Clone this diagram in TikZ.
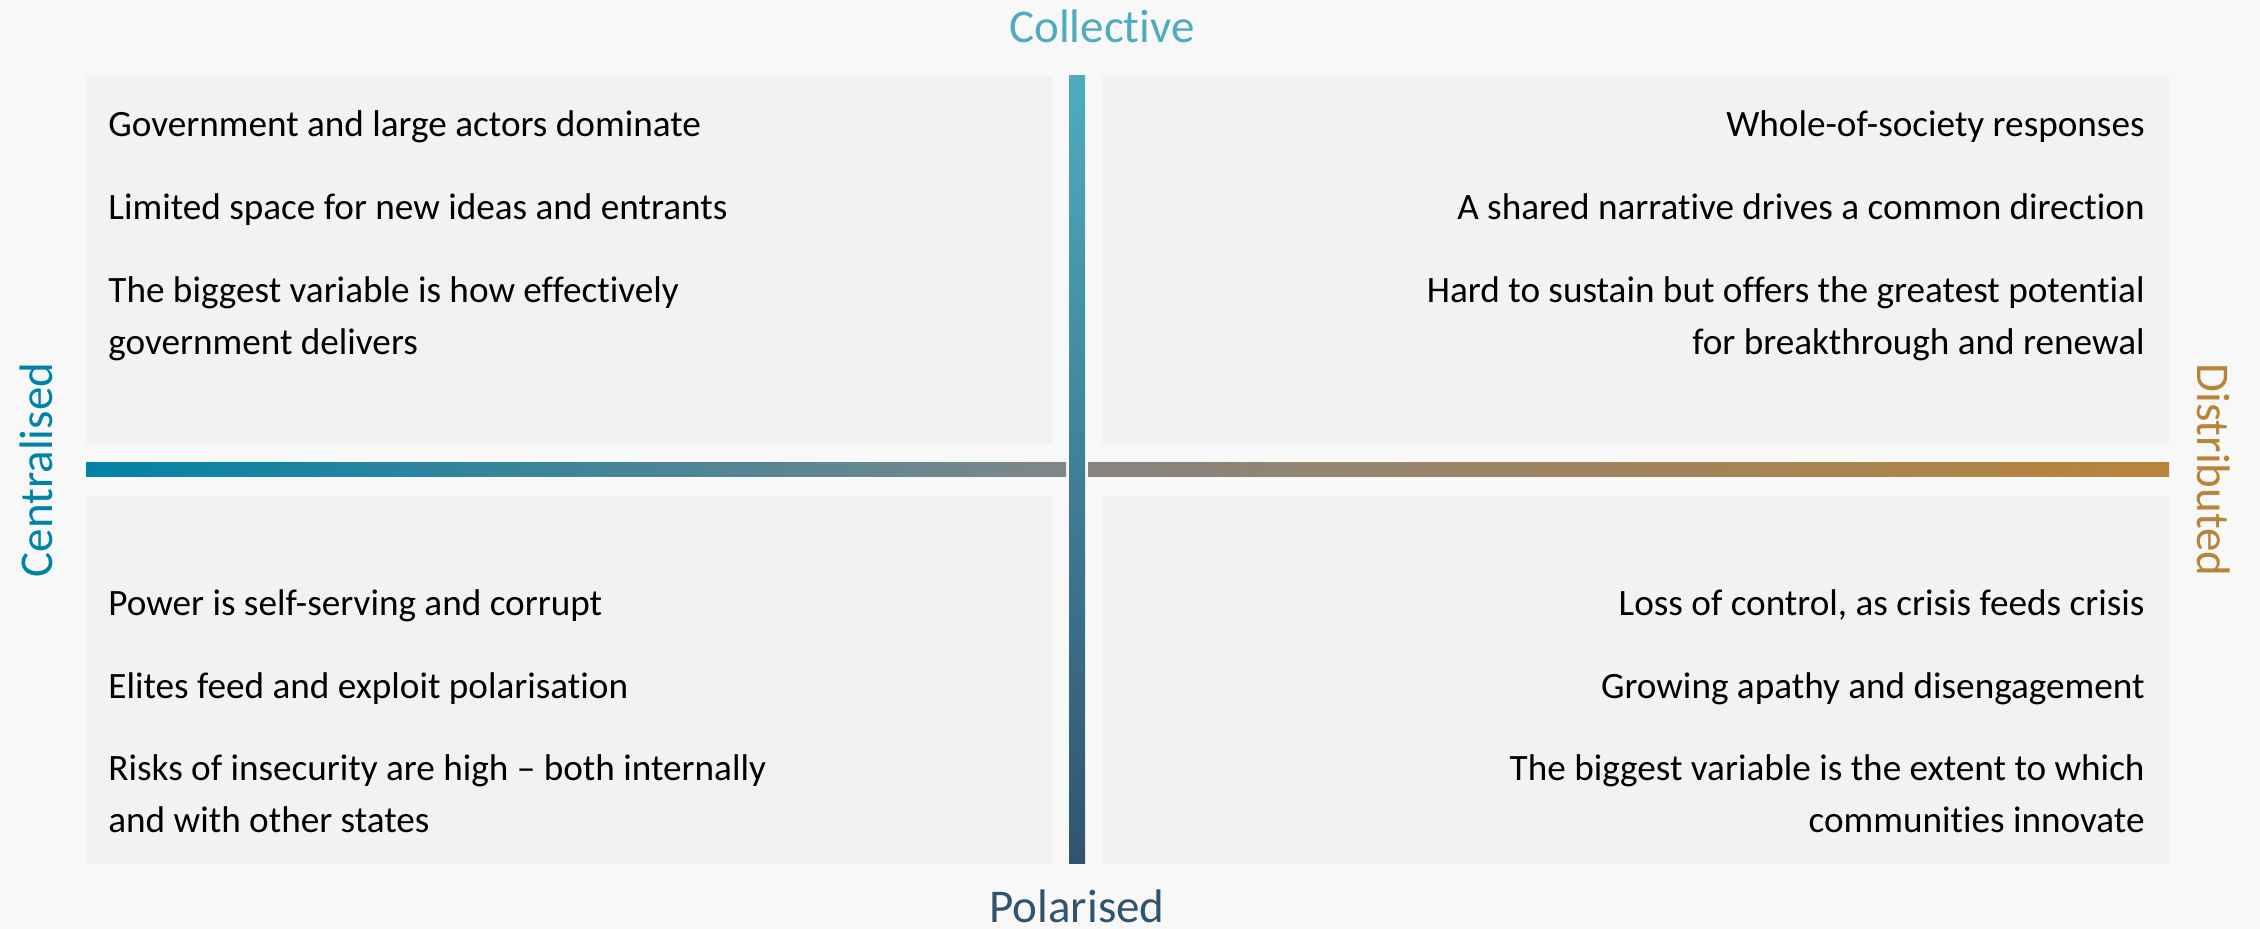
\documentclass[tikz,border=0pt]{standalone}
\usepackage{fontspec}
\setmainfont{Carlito}[RawFeature=-liga]
\usetikzlibrary{positioning}

\definecolor{pagebg}{HTML}{F8F8F8}
\definecolor{boxbg}{HTML}{F2F2F2}
\definecolor{collcol}{HTML}{4EACBF}
\definecolor{polcol}{HTML}{31546E}
\definecolor{centcol}{HTML}{0083A8}
\definecolor{distcol}{HTML}{B8843A}
\definecolor{midleft}{HTML}{7F878A}
\definecolor{midright}{HTML}{88847F}

\begin{document}
\begin{tikzpicture}[x=0.5pt, y=-0.5pt,
   body/.style={inner sep=0pt, font=\fontsize{18.6}{26}\selectfont},
   bodyl/.style={body, anchor=base west, align=left},
   bodyr/.style={body, anchor=base east, align=right},
   axislabel/.style={inner sep=0pt, font=\fontsize{23.5}{28}\selectfont}]
   % Page and bounding box
   \fill[pagebg] (0,0) rectangle (2260,929);
   \useasboundingbox (0,0) rectangle (2260,929);
   % Quadrant boxes
   \fill[boxbg] (86,76) rectangle (1052,444);
   \fill[boxbg] (1102,76) rectangle (2169,444);
   \fill[boxbg] (86,496) rectangle (1052,864);
   \fill[boxbg] (1102,496) rectangle (2169,864);
   % Horizontal axis, broken at the centre
   \shade[left color=centcol, right color=midleft] (86,463) rectangle (1066,477);
   \shade[left color=midright, right color=distcol] (1088,463) rectangle (2169,477);
   % Vertical axis
   \shade[top color=collcol, bottom color=polcol] (1069,76) rectangle (1085,864);
   % Axis labels
   \node[axislabel, text=collcol, anchor=base] (collective) at (1102,43) {Collective};
   \node[axislabel, text=polcol, anchor=base] (polarised) at (1077,922) {Polarised};
   \node[axislabel, text=centcol, anchor=base, rotate=90] (centralised) at (52,470) {Centralised};
   \node[axislabel, text=distcol, anchor=base, rotate=-90] (distributed) at (2197,470) {Distributed};
   % Top left (base of a two-line node = its last line)
   \node[bodyl] (tl1) at (108,137) {Government and large actors dominate};
   \node[bodyl] (tl2) at (108,220) {Limited space for new ideas and entrants};
   \node[bodyl] (tl3) at (108,355) {The biggest variable is how effectively\\government delivers};
   % Top right
   \node[bodyr] (tr1) at (2145,137) {Whole-of-society responses};
   \node[bodyr] (tr2) at (2145,220) {A shared narrative drives a common direction};
   \node[bodyr] (tr3) at (2145,355) {Hard to sustain but offers the greatest potential\\for breakthrough and renewal};
   % Bottom left
   \node[bodyl] (bl1) at (108,616) {Power is self-serving and corrupt};
   \node[bodyl] (bl2) at (108,699) {Elites feed and exploit polarisation};
   \node[bodyl] (bl3) at (108,833) {Risks of insecurity are high – both internally\\and with other states};
   % Bottom right
   \node[bodyr] (br1) at (2145,616) {Loss of control, as crisis feeds crisis};
   \node[bodyr] (br2) at (2145,699) {Growing apathy and disengagement};
   \node[bodyr] (br3) at (2145,833) {The biggest variable is the extent to which\\communities innovate};
\end{tikzpicture}
\end{document}
